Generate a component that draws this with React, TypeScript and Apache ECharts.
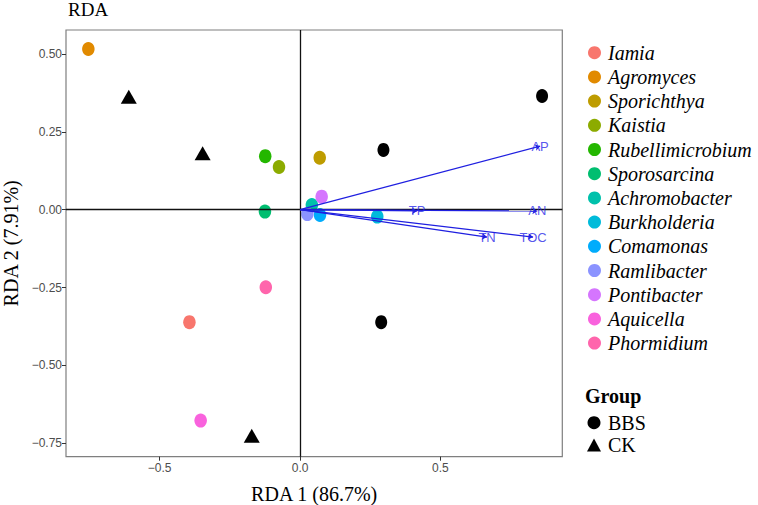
import React, { useEffect, useRef } from "react";
import * as echarts from "echarts";

// ---- data ----
const species = [
  "Iamia", "Agromyces", "Sporichthya", "Kaistia", "Rubellimicrobium", "Sporosarcina",
  "Achromobacter", "Burkholderia", "Comamonas", "Ramlibacter", "Pontibacter", "Aquicella", "Phormidium",
];
const speciesRDA1 = [-0.394, -0.754, 0.070, -0.075, -0.124, -0.125, 0.042, 0.275, 0.071, 0.026, 0.077, -0.354, -0.122];
const speciesRDA2 = [-0.361, 0.516, 0.167, 0.137, 0.172, -0.006, 0.015, -0.022, -0.017, -0.014, 0.042, -0.677, -0.249];

const groups = ["BBS", "CK"];
const bbsRDA1 = [0.862, 0.297, 0.289];
const bbsRDA2 = [0.365, 0.192, -0.361];
const ckRDA1 = [-0.61, -0.347, -0.172];
const ckRDA2 = [0.363, 0.181, -0.726];

const envNames = ["AP", "AN", "TP", "TN", "TOC"];
const envRDA1 = [0.855, 0.845, 0.417, 0.666, 0.83];
const envRDA2 = [0.204, -0.004, -0.004, -0.088, -0.088];

const xTickValues = [-0.5, 0, 0.5];
const xTickLabels = ["\u22120.5", "0.0", "0.5"];
const yTickValues = [-0.75, -0.5, -0.25, 0, 0.25, 0.5];
const yTickLabels = ["\u22120.75", "\u22120.50", "\u22120.25", "0.00", "0.25", "0.50"];

// ---- styles ----
const palette = [
  "#F8766D", "#E18A00", "#BE9C00", "#8CAB00", "#24B700", "#00BE70", "#00C1AB",
  "#00BBDA", "#00ACFC", "#8B93FF", "#D575FE", "#F962DD", "#FF65AC",
];
const SERIF = '"Liberation Serif", "Times New Roman", serif';
const SANS = '"Liberation Sans", Arial, sans-serif';

export default function App() {
  const ref = useRef<HTMLDivElement>(null);
  useEffect(() => {
    if (!ref.current) return;
    const chart = echarts.init(ref.current, undefined, { renderer: "svg" });
    const speciesSeries = species.map((name, i) => ({
      type: "scatter",
      name,
      data: [[speciesRDA1[i], speciesRDA2[i]]],
      symbol: "circle",
      symbolSize: [12.5, 14],
      itemStyle: { color: palette[i], opacity: 1 },
      z: 3,
      silent: true,
    }));
    const option: any = {
      animation: false,
      backgroundColor: "#ffffff",
      title: {
        text: "RDA",
        left: 68,
        top: 0,
        padding: 0,
        textStyle: { fontFamily: SERIF, fontSize: 19, fontWeight: "normal", color: "#000" },
      },
      grid: {
        left: 66,
        right: 195.7,
        top: 30,
        bottom: 48.3,
        show: true,
        borderColor: "#7f7f7f",
        borderWidth: 1.2,
        backgroundColor: "transparent",
        containLabel: false,
        outerBoundsMode: "none",
      },
      xAxis: {
        type: "value",
        min: -0.8336,
        max: 0.934,
        name: "RDA 1 (86.7%)",
        nameLocation: "middle",
        nameGap: 27,
        nameTextStyle: { fontFamily: SERIF, fontSize: 20, color: "#000" },
        axisLine: { show: false, onZero: false },
        axisTick: { show: true, length: 4, lineStyle: { color: "#333" }, customValues: xTickValues },
        axisLabel: {
          customValues: xTickValues,
          formatter: (v: number) => xTickLabels[xTickValues.findIndex((t) => Math.abs(t - v) < 1e-9)] ?? "",
          color: "#4d4d4d",
          fontSize: 12,
          fontFamily: SANS,
          margin: 5,
        },
        splitLine: { show: false },
      },
      yAxis: {
        type: "value",
        min: -0.793,
        max: 0.577,
        name: "RDA 2 (7.91%)",
        nameLocation: "middle",
        nameGap: 45,
        nameTextStyle: { fontFamily: SERIF, fontSize: 20, color: "#000" },
        axisLine: { show: false, onZero: false },
        axisTick: { show: true, length: 4, lineStyle: { color: "#333" }, customValues: yTickValues },
        axisLabel: {
          customValues: yTickValues,
          formatter: (v: number) => yTickLabels[yTickValues.findIndex((t) => Math.abs(t - v) < 1e-9)] ?? "",
          color: "#4d4d4d",
          fontSize: 12,
          fontFamily: SANS,
          margin: 4,
        },
        splitLine: { show: false },
      },
      legend: [
        {
          data: species,
          orient: "vertical",
          left: 588,
          top: 42.7,
          padding: 0,
          itemWidth: 13,
          itemHeight: 13,
          itemGap: 4.2,
          icon: "circle",
          selectedMode: false,
          textStyle: {
            fontFamily: SERIF,
            fontStyle: "italic",
            fontSize: 20,
            color: "#000",
            padding: [0, 0, 0, 2],
          },
        },
        {
          data: [
            { name: groups[0], icon: "circle" },
            { name: groups[1], icon: "triangle" },
          ],
          orient: "vertical",
          left: 587,
          top: 412.7,
          padding: 0,
          itemWidth: 14,
          itemHeight: 13,
          itemGap: 2.3,
          selectedMode: false,
          textStyle: {
            fontFamily: SERIF,
            fontSize: 20,
            color: "#000",
            padding: [0, 0, 0, 2],
          },
        },
      ],
      graphic: [
        {
          type: "text",
          left: 585,
          top: 386,
          style: { text: "Group", font: `bold 20px ${SERIF}`, fill: "#000" },
        },
      ],
      series: [
        {
          type: "line",
          name: "zero",
          data: [],
          silent: true,
          z: 1,
          markLine: {
            silent: true,
            symbol: "none",
            label: { show: false },
            lineStyle: { color: "#111", type: "solid", width: 1.3 },
            data: [{ xAxis: 0 }, { yAxis: 0 }],
          },
        },
        ...speciesSeries,
        {
          type: "scatter",
          name: groups[0],
          data: bbsRDA1.map((x, i) => [x, bbsRDA2[i]]),
          symbol: "circle",
          symbolSize: [12, 14],
          itemStyle: { color: "#000", opacity: 1 },
          z: 3,
          silent: true,
        },
        {
          type: "scatter",
          name: groups[1],
          data: ckRDA1.map((x, i) => [x, ckRDA2[i]]),
          symbol: "triangle",
          symbolSize: [16, 14],
          itemStyle: { color: "#000", opacity: 1 },
          z: 3,
          silent: true,
        },
        {
          type: "lines",
          name: "env",
          coordinateSystem: "cartesian2d",
          data: envNames.map((n, i) => ({ name: n, coords: [[0, 0], [envRDA1[i], envRDA2[i]]] })),
          symbol: ["none", "arrow"],
          symbolSize: 5,
          lineStyle: { color: "#1f1fe0", width: 1.3, opacity: 1, curveness: 0 },
          z: 5,
          silent: true,
        },
        {
          type: "scatter",
          name: "envLabels",
          data: envNames.map((n, i) => ({ name: n, value: [envRDA1[i], envRDA2[i]] })),
          symbolSize: 1,
          itemStyle: { color: "rgba(0,0,0,0)" },
          label: {
            show: true,
            position: "inside",
            formatter: "{b}",
            color: "#2a2ae8",
            fontSize: 13,
            fontFamily: SANS,
          },
          z: 6,
          silent: true,
        },
      ],
    };
    chart.setOption(option);
    return () => chart.dispose();
  }, []);
  return (
    <div
      ref={ref}
      style={{ position: "fixed", left: 0, top: 0, width: 758, height: 505, background: "#fff" }}
    />
  );
}
